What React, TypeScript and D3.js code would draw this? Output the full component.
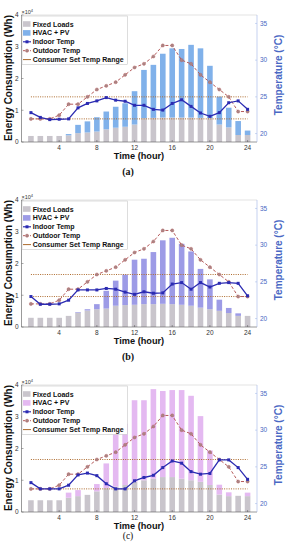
import React from 'react'
import * as d3 from 'd3'

// hours of the day
const hours = [1, 2, 3, 4, 5, 6, 7, 8, 9, 10, 11, 12, 13, 14, 15, 16, 17, 18, 19, 20, 21, 22, 23, 24]
const xTicks = [4, 8, 12, 16, 20, 24]
const energyTicks = [0, 10000, 20000, 30000, 40000]
const tempTicks = [20, 25, 30, 35]
const legendLabels = ['Fixed Loads', 'HVAC + PV', 'Indoor Temp', 'Outdoor Temp', 'Consumer Set Temp Range']

const outdoorTemp = [22, 22, 22, 22.5, 24, 24, 25, 26, 26.5, 27, 28, 29, 29.5, 30.5, 32, 32, 30, 29.5, 28, 27, 26, 25, 23, 23]

// (a)
const fixedA = [1900, 1900, 1900, 1900, 2100, 2800, 3000, 3300, 4000, 4500, 4800, 5500, 7500, 7600, 7700, 7700, 7700, 7700, 7600, 7500, 5500, 4600, 2200, 2200]
const hvacA = [0, 0, 0, 0, 400, 2600, 3500, 4500, 5600, 6600, 7400, 10500, 15200, 16700, 20100, 21800, 21600, 22900, 21900, 16500, 8800, 6200, 4400, 1400]
const indoorA = [22.85, 22.2, 21.9, 21.95, 22.0, 23.5, 24.1, 24.45, 24.9, 24.55, 24.4, 23.85, 23.85, 23.3, 23.2, 24.1, 24.6, 23.7, 22.8, 22.35, 22.85, 24.2, 24.45, 23.3]
const rangeA = [22, 25]

// (b)
const fixedB = [2900, 2900, 2900, 2900, 3500, 4500, 5200, 5600, 5800, 6700, 6900, 7000, 7200, 7200, 7300, 7200, 7000, 6700, 6100, 5600, 5100, 4400, 3500, 3500]
const hvacB = [0, 0, 0, 0, 0, 200, 400, 1600, 5600, 7900, 9600, 14200, 14300, 16400, 20000, 20900, 19200, 17100, 12200, 9400, 3500, 1600, 800, 0]
const indoorB = [23.0, 21.95, 21.95, 22.0, 22.5, 23.9, 23.9, 23.9, 24.1, 24.0, 23.6, 23.3, 23.65, 23.45, 23.5, 24.7, 24.9, 24.0, 24.9, 24.3, 24.8, 24.9, 24.8, 23.1]
const rangeB = [23, 26]

// (c)
const fixedC = [3700, 3700, 3700, 3700, 4500, 5000, 5400, 6500, 7500, 8000, 8500, 9500, 10000, 10500, 11000, 11000, 10500, 10000, 9500, 8500, 5500, 5000, 5100, 5000]
const hvacC = [0, 0, 0, 0, 1600, 1900, 0, 2300, 7800, 17200, 19300, 25700, 25200, 28200, 27100, 27400, 27900, 26600, 20700, 10900, 3100, 1200, 0, 1100]
const indoorC = [22.85, 22.0, 22.0, 22.0, 22.5, 23.9, 24.15, 23.8, 22.7, 22.0, 22.0, 23.1, 23.55, 23.85, 24.9, 25.8, 25.5, 24.35, 24.0, 24.1, 25.95, 25.95, 24.9, 23.3]
const rangeC = [22, 26]

const FONT = 'Liberation Sans, Arial, sans-serif'
const GRAY = '#c9c5cc'
const INDOOR = '#2b2bb2'
const OUTDOOR = '#b55a5a'
const RANGE = '#ad6a2c'
const RIGHT_AXIS = '#4a68c4'

const PLOT_LEFT = 21.5
const PLOT_RIGHT = 257
const PLOT_H = 127

function Panel({ top, fixed, hvac, indoor, range, color, caption, captionY, captionBold }) {
  const bottom = top + PLOT_H
  const x = d3.scaleLinear().domain([0, 25]).range([PLOT_LEFT, PLOT_RIGHT])
  const yE = d3.scaleLinear().domain([0, 40000]).range([bottom, top])
  const yT = d3.scaleLinear().domain([18.85, 36.15]).range([bottom, top])
  const bw = 5.6

  const tempLine = d3
    .line<number>()
    .x((_, i) => x(hours[i]))
    .y((d) => yT(d))

  const legendRowY = (i) => top + 9 + i * 8.9

  return (
    <g>
      {/* bars: fixed loads with HVAC + PV stacked on top */}
      {hours.map((h, i) => (
        <g key={`bar-${h}`}>
          <rect x={x(h) - bw / 2} y={yE(fixed[i])} width={bw} height={yE(0) - yE(fixed[i])} fill={GRAY} />
          {hvac[i] > 0 && (
            <rect
              x={x(h) - bw / 2}
              y={yE(fixed[i] + hvac[i])}
              width={bw}
              height={yE(fixed[i]) - yE(fixed[i] + hvac[i])}
              fill={color}
            />
          )}
        </g>
      ))}

      {/* set temperature range */}
      {range.map((t) => (
        <line
          key={`range-${t}`}
          x1={x(1)}
          x2={x(24)}
          y1={yT(t)}
          y2={yT(t)}
          stroke={RANGE}
          strokeWidth={1}
          strokeDasharray="1,1.3"
        />
      ))}

      {/* outdoor temp */}
      <path d={tempLine(outdoorTemp)} fill="none" stroke={OUTDOOR} strokeWidth={1} strokeDasharray="3,2" />
      {outdoorTemp.map((t, i) => (
        <circle key={`out-${i}`} cx={x(hours[i])} cy={yT(t)} r={1.6} fill="#a98585" stroke={OUTDOOR} strokeWidth={0.4} />
      ))}

      {/* indoor temp */}
      <path d={tempLine(indoor)} fill="none" stroke={INDOOR} strokeWidth={1.3} />
      {indoor.map((t, i) => (
        <rect key={`in-${i}`} x={x(hours[i]) - 1.5} y={yT(t) - 1.5} width={3} height={3} fill={INDOOR} />
      ))}

      {/* box */}
      <line x1={PLOT_LEFT} x2={PLOT_RIGHT} y1={top} y2={top} stroke="#d0d0d0" strokeWidth={0.6} />
      <line x1={PLOT_LEFT} x2={PLOT_RIGHT} y1={bottom} y2={bottom} stroke="#555" strokeWidth={0.6} />
      <line x1={PLOT_LEFT} x2={PLOT_LEFT} y1={top} y2={bottom} stroke="#555" strokeWidth={0.6} />
      <line x1={PLOT_RIGHT} x2={PLOT_RIGHT} y1={top} y2={bottom} stroke="#9db4e6" strokeWidth={0.6} />

      {/* x axis */}
      {xTicks.map((t) => (
        <g key={`xt-${t}`}>
          <line x1={x(t)} x2={x(t)} y1={bottom} y2={bottom - 2} stroke="#555" strokeWidth={0.5} />
          <text x={x(t)} y={bottom + 7.8} textAnchor="middle" fontFamily={FONT} fontSize={6.5} fill="#333">
            {t}
          </text>
        </g>
      ))}
      <text x={139} y={bottom + 17.2} textAnchor="middle" fontFamily={FONT} fontSize={9.2} fontWeight="bold" fill="#111">
        Time (hour)
      </text>

      {/* left axis */}
      {energyTicks.map((t) => (
        <g key={`yl-${t}`}>
          <line x1={PLOT_LEFT} x2={PLOT_LEFT + 2} y1={yE(t)} y2={yE(t)} stroke="#555" strokeWidth={0.5} />
          <text x={PLOT_LEFT - 3} y={yE(t) + 2.3} textAnchor="end" fontFamily={FONT} fontSize={6.5} fill="#333">
            {t / 10000}
          </text>
        </g>
      ))}
      <text x={PLOT_LEFT} y={top - 1.5} fontFamily={FONT} fontSize={5.5} fill="#333">
        ×10<tspan dy={-2} fontSize={4}>4</tspan>
      </text>
      <text
        transform={`translate(11.5,${top + 63}) rotate(-90)`}
        textAnchor="middle"
        fontFamily={FONT}
        fontSize={10}
        fontWeight="bold"
        fill="#111"
      >
        Energy Consumption (Wh)
      </text>

      {/* right axis */}
      {tempTicks.map((t) => (
        <g key={`yr-${t}`}>
          <line x1={PLOT_RIGHT} x2={PLOT_RIGHT - 2} y1={yT(t)} y2={yT(t)} stroke="#9db4e6" strokeWidth={0.5} />
          <text x={PLOT_RIGHT + 3} y={yT(t) + 2.3} fontFamily={FONT} fontSize={6.5} fill={RIGHT_AXIS}>
            {t}
          </text>
        </g>
      ))}
      <text
        transform={`translate(282,${top + 60}) rotate(-90)`}
        textAnchor="middle"
        fontFamily={FONT}
        fontSize={10}
        fontWeight="bold"
        fill={RIGHT_AXIS}
      >
        Temperature (°C)
      </text>

      {/* legend */}
      <rect x={PLOT_LEFT + 0.5} y={top + 1} width={105.5} height={48.5} fill="#fff" stroke="#bbb" strokeWidth={0.5} />
      <rect x={23} y={legendRowY(0) - 2.8} width={7.5} height={5.6} fill={GRAY} />
      <rect x={23} y={legendRowY(1) - 2.8} width={7.5} height={5.6} fill={color} />
      <line x1={23} x2={31} y1={legendRowY(2)} y2={legendRowY(2)} stroke={INDOOR} strokeWidth={1.2} />
      <rect x={25.5} y={legendRowY(2) - 1.5} width={3} height={3} fill={INDOOR} />
      <line x1={23} x2={31} y1={legendRowY(3)} y2={legendRowY(3)} stroke={OUTDOOR} strokeWidth={1} strokeDasharray="2,1.5" />
      <circle cx={27} cy={legendRowY(3)} r={1.6} fill="#a98585" stroke={OUTDOOR} strokeWidth={0.4} />
      <line x1={23} x2={31} y1={legendRowY(4)} y2={legendRowY(4)} stroke={RANGE} strokeWidth={1} />
      {legendLabels.map((label, i) => (
        <text key={label} x={32.7} y={legendRowY(i) + 2.5} fontFamily={FONT} fontSize={7} fontWeight="bold" fill="#111">
          {label}
        </text>
      ))}

      {/* caption */}
      <text
        x={128}
        y={captionY}
        textAnchor="middle"
        fontFamily="Liberation Serif, Times New Roman, serif"
        fontSize={captionBold ? 10 : 9.5}
        fontWeight={captionBold ? 'bold' : 'normal'}
        fill="#111"
      >
        {caption}
      </text>
    </g>
  )
}

const panels = [
  { key: 'a', top: 15, fixed: fixedA, hvac: hvacA, indoor: indoorA, range: rangeA, color: '#80b1ea', caption: '(a)', captionY: 175, captionBold: true },
  { key: 'b', top: 200, fixed: fixedB, hvac: hvacB, indoor: indoorB, range: rangeB, color: '#9d9be6', caption: '(b)', captionY: 360, captionBold: true },
  { key: 'c', top: 385, fixed: fixedC, hvac: hvacC, indoor: indoorC, range: rangeC, color: '#e4b9f1', caption: '(c)', captionY: 538.5, captionBold: false },
]

export default function App() {
  return (
    <svg
      width={287}
      height={550}
      style={{ position: 'absolute', left: 0, top: 0, background: '#fff' }}
    >
      {panels.map((p) => (
        <Panel key={p.key} {...p} />
      ))}
    </svg>
  )
}
